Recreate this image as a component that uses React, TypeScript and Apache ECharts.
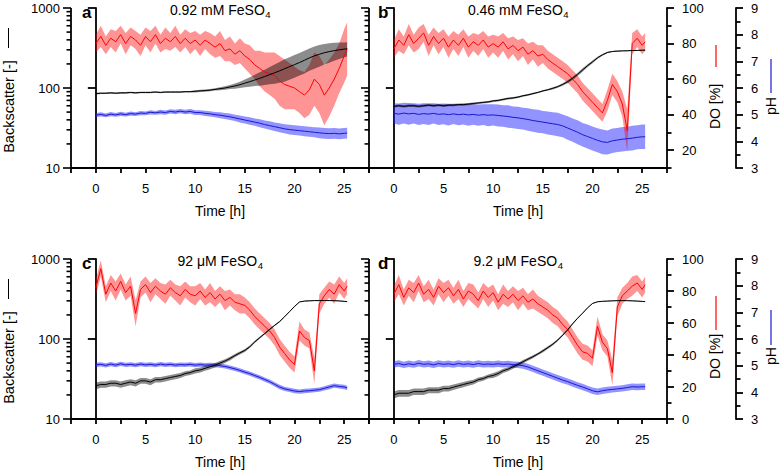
import React, { useEffect, useRef } from 'react';
import * as echarts from 'echarts';

const TIME = [0,0.5,1,1.5,2,2.5,3,3.5,4,4.5,5,5.5,6,6.5,7,7.5,8,8.5,9,9.5,10,10.5,11,11.5,12,12.5,13,13.5,14,14.5,15,15.5,16,16.5,17,17.5,18,18.5,19,19.5,20,20.5,21,21.5,22,22.5,23,23.5,24,24.5,25,25.3];

const A_BS = [85,86,86,87,86,87,87,88,87,88,88,88,89,88,89,89,89,89,90,90,91,92,93,94,96,98,100,103,106,110,115,120,126,132,139,147,155,164,174,185,196,208,222,238,252,264,276,285,293,300,306,310];
const A_BS_SD = [2,2,2,2,2,2,2,2,2,2,2,2,2,2,2,2,2,2,2,2,3,3,3,3,3,4,5,6,8,10,13,16,20,25,30,36,42,48,54,58,62,65,70,74,78,80,80,78,74,70,64,62];
const A_DO = [80,84,79,83,81,85,80,84,82,79,84,81,85,80,83,81,84,80,83,80,82,79,82,80,78,80,76,77,74,76,73,71,68,66,64,63,62,59,57,56,55,53,51,54,60,57,51,55,60,66,73,77];
const A_DO_SD = [5,6,5,5,6,5,6,5,5,6,5,6,5,5,6,5,6,5,5,6,5,6,5,6,6,7,6,7,6,7,7,8,8,10,11,12,13,14,14,13,12,12,13,14,15,16,17,16,15,14,15,15];
const A_PH = [4.98,5.01,4.97,5.02,4.99,5.03,5.0,5.04,5.02,5.06,5.05,5.09,5.07,5.1,5.08,5.12,5.1,5.13,5.1,5.12,5.08,5.08,5.05,5.03,5.0,4.98,4.95,4.92,4.88,4.84,4.8,4.76,4.72,4.68,4.63,4.59,4.55,4.51,4.47,4.44,4.42,4.4,4.38,4.36,4.34,4.32,4.3,4.29,4.3,4.28,4.3,4.31];
const A_PH_SD = [0.07,0.08,0.07,0.08,0.07,0.08,0.07,0.08,0.07,0.08,0.07,0.08,0.07,0.08,0.08,0.08,0.08,0.08,0.08,0.09,0.09,0.09,0.1,0.1,0.1,0.11,0.11,0.12,0.12,0.13,0.13,0.14,0.14,0.15,0.15,0.16,0.16,0.17,0.17,0.18,0.18,0.18,0.19,0.19,0.19,0.2,0.2,0.2,0.2,0.2,0.2,0.2];

const B_BS = [59,60,59,60,60,59,60,61,60,61,60,61,61,62,62,63,64,65,66,67,69,70,72,74,75,77,80,82,85,88,92,95,99,104,111,120,132,148,168,190,212,238,260,278,286,289,291,292,294,295,297,297];
const B_BS_SD = [2,2,2,2,2,2,2,2,2,2,2,2,2,2,2,2,2,2,2,2,2,2,2,2,2,2,2,2,2,2,2,2,3,3,4,5,6,7,8,8,8,8,7,6,5,5,4,4,4,4,4,4];
const B_DO = [77,82,79,85,80,83,86,79,84,80,83,78,82,79,83,78,81,79,82,78,80,78,81,77,79,76,78,74,76,73,74,71,69,67,65,63,60,57,53,50,47,44,41,48,57,53,46,31,80,83,79,81];
const B_DO_SD = [5,6,5,6,5,6,5,6,5,6,5,6,5,6,5,6,5,6,5,6,5,6,5,6,5,6,5,6,5,6,5,5,5,5,5,5,5,5,5,5,5,5,5,6,6,6,7,12,6,5,5,5];
const B_PH = [5.05,5.02,5.06,5.03,5.05,5.01,5.04,5.02,5.05,5.01,5.03,5.0,5.03,5.0,5.02,4.99,5.01,4.98,5.0,4.98,4.99,4.97,4.95,4.93,4.9,4.88,4.85,4.82,4.78,4.75,4.72,4.69,4.66,4.63,4.58,4.5,4.42,4.34,4.25,4.18,4.11,4.04,3.98,3.96,4.02,4.05,4.08,4.1,4.12,4.15,4.17,4.17];
const B_PH_SD = [0.38,0.4,0.39,0.41,0.38,0.4,0.39,0.41,0.38,0.4,0.39,0.41,0.38,0.4,0.39,0.41,0.39,0.4,0.39,0.41,0.4,0.41,0.4,0.42,0.41,0.42,0.41,0.42,0.42,0.43,0.42,0.43,0.43,0.44,0.43,0.44,0.44,0.45,0.44,0.45,0.45,0.45,0.46,0.45,0.46,0.45,0.46,0.45,0.46,0.45,0.46,0.46];

const C_BS = [26,27,27,28,28,27,28,29,28,30,30,29,31,31,32,33,34,35,37,38,40,41,43,45,47,50,53,57,62,67,72,80,92,104,117,132,148,165,190,220,255,290,298,300,302,302,303,302,301,299,296,293];
const C_BS_SD = [2.5,2.5,2.5,2.5,2.5,2.5,2.5,2.5,2.5,2.5,2.5,2.5,2.5,2.5,2.5,2.5,2.5,2.5,2.5,2.5,3,3,3,3,3,3,3,3,3,3,3,3,3,3,3,3,3,3,3,3,3,3,3,3,3,3,3,3,3,3,3,3];
const C_DO = [82,94,78,85,80,86,79,83,66,81,84,79,83,80,78,82,79,77,81,78,77,80,76,79,75,78,74,76,73,72,71,68,64,61,58,55,51,45,41,37,34,55,51,49,30,72,77,81,78,84,80,83];
const C_DO_SD = [5,5,5,5,6,5,5,6,8,5,5,6,5,5,6,5,5,6,5,5,6,5,5,6,5,5,6,5,5,6,5,5,5,5,5,5,5,5,5,5,5,6,5,5,8,6,5,5,6,5,5,5];
const C_PH = [5.03,5.05,5.01,5.06,5.02,5.07,5.03,5.05,5.02,5.06,5.03,5.05,5.02,5.06,5.03,5.05,5.02,5.04,5.03,5.05,5.02,5.04,5.02,5.03,5.02,5.0,4.97,4.93,4.88,4.82,4.76,4.7,4.63,4.56,4.48,4.4,4.3,4.2,4.13,4.09,4.05,4.03,4.05,4.06,4.08,4.1,4.15,4.2,4.25,4.22,4.2,4.17];
const C_PH_SD = [0.08,0.08,0.08,0.08,0.08,0.08,0.08,0.08,0.08,0.08,0.08,0.08,0.08,0.08,0.08,0.08,0.08,0.08,0.08,0.08,0.08,0.08,0.08,0.08,0.08,0.08,0.08,0.08,0.08,0.08,0.08,0.08,0.08,0.08,0.08,0.08,0.08,0.08,0.08,0.08,0.08,0.08,0.08,0.08,0.08,0.08,0.08,0.08,0.08,0.08,0.08,0.08];

const D_BS = [20,21,21,21,22,22,22,23,23,23,24,24,25,26,27,28,29,31,32,34,35,37,40,42,45,48,52,56,60,65,71,78,86,97,112,130,155,182,210,245,278,292,296,298,300,301,302,301,300,298,295,293];
const D_BS_SD = [2,2,2,2,2,2,2,2,2,2,2,2,2,2,2,2,2,2,2,2,2.5,2.5,2.5,2.5,2.5,2.5,2.5,2.5,2.5,2.5,3,3,3,3,3,3,3,3,3,3,3,3,3,3,3,3,3,3,3,3,3,3];
const D_DO = [78,84,76,82,79,85,78,81,76,83,79,82,77,81,75,80,78,74,80,76,79,73,78,75,78,74,77,73,75,72,70,68,65,63,59,56,51,46,42,41,38,58,48,44,29,70,77,80,83,85,81,84];
const D_DO_SD = [5,6,5,5,6,5,5,6,5,5,6,5,5,6,5,5,6,5,5,6,5,5,6,5,5,6,5,5,6,5,5,5,5,5,5,5,5,5,5,5,5,6,5,5,8,6,5,5,6,5,5,5];
const D_PH = [5.05,5.08,5.03,5.07,5.04,5.09,5.05,5.07,5.03,5.08,5.05,5.07,5.04,5.08,5.05,5.07,5.04,5.08,5.05,5.06,5.05,5.07,5.05,5.06,5.04,5.03,5.0,4.95,4.88,4.81,4.74,4.67,4.6,4.53,4.46,4.4,4.33,4.26,4.2,4.13,4.06,4.02,4.06,4.09,4.11,4.13,4.15,4.18,4.21,4.2,4.21,4.21];
const D_PH_SD = [0.12,0.12,0.12,0.12,0.12,0.12,0.12,0.12,0.12,0.12,0.12,0.12,0.12,0.12,0.12,0.12,0.12,0.12,0.12,0.12,0.12,0.12,0.12,0.12,0.12,0.12,0.12,0.12,0.12,0.12,0.12,0.12,0.12,0.12,0.12,0.12,0.12,0.12,0.12,0.12,0.12,0.12,0.12,0.12,0.12,0.12,0.12,0.12,0.12,0.12,0.12,0.12];

const LOG_MAJOR = [10, 100, 1000];
const LOG_MINOR = [20,30,40,50,60,70,80,90,200,300,400,500,600,700,800,900];
const DO_MAJOR = [0,20,40,60,80,100];
const DO_MINOR = [10,30,50,70,90];
const TITLES = ['0.92 mM FeSO', '0.46 mM FeSO', '92 μM FeSO', '9.2 μM FeSO'];
const TITLE_SUB = '4';
const LETTERS = ['a', 'b', 'c', 'd'];

const FONT = '"Liberation Sans", Arial, sans-serif';
const RED = '#ff0000';
const RED_BAND = 'rgba(255,0,0,0.42)';
const GRAY_BAND = 'rgba(0,0,0,0.45)';
const BLUE = '#1818d0';
const BLUE_BAND = 'rgba(40,40,255,0.5)';
const AX = { color: '#000', width: 1.8 };
const SERIES_PER_PANEL = 6;

const PANELS = [
  { bs: A_BS, bsSd: A_BS_SD, dO: A_DO, doSd: A_DO_SD, ph: A_PH, phSd: A_PH_SD, left: 71, top: 8, doMin: 10, right: false, labels: true },
  { bs: B_BS, bsSd: B_BS_SD, dO: B_DO, doSd: B_DO_SD, ph: B_PH, phSd: B_PH_SD, left: 369, top: 8, doMin: 10, right: true, labels: false },
  { bs: C_BS, bsSd: C_BS_SD, dO: C_DO, doSd: C_DO_SD, ph: C_PH, phSd: C_PH_SD, left: 71, top: 259, doMin: 0, right: false, labels: true },
  { bs: D_BS, bsSd: D_BS_SD, dO: D_DO, doSd: D_DO_SD, ph: D_PH, phSd: D_PH_SD, left: 369, top: 259, doMin: 0, right: true, labels: false },
];

const DO_KEY = [[37, 59, 98.5], [37, 71, 97.5]];
const PH_KEY = [[51, 85, 98], [51, 86, 97]];

let measureCtx: CanvasRenderingContext2D | null = null;
function textWidth(text: string, font: string) {
  if (!measureCtx) measureCtx = document.createElement('canvas').getContext('2d');
  if (!measureCtx) return text.length * 7;
  measureCtx.font = font;
  return measureCtx.measureText(text).width;
}

function band(i: number, yIdx: number, mean: number[], sd: number[], color: string, z: number) {
  return {
    type: 'custom', xAxisIndex: i, yAxisIndex: yIdx, silent: true, z, clip: false,
    data: [[TIME[0], mean[0]]],
    encode: { x: 0, y: 1 },
    renderItem: (_p: any, api: any) => {
      const pts: number[][] = [];
      for (let k = 0; k < TIME.length; k++) pts.push(api.coord([TIME[k], mean[k] + sd[k]]));
      for (let k = TIME.length - 1; k >= 0; k--) pts.push(api.coord([TIME[k], mean[k] - sd[k]]));
      return { type: 'polygon', shape: { points: pts }, style: { fill: color } };
    },
  };
}

function line(i: number, yIdx: number, mean: number[], color: string, z: number) {
  return {
    type: 'line', xAxisIndex: i, yAxisIndex: yIdx, silent: true, z,
    showSymbol: false, symbol: 'none',
    data: TIME.map((t, k) => [t, mean[k]]),
    lineStyle: { color, width: 1 },
  };
}

function buildOption() {
  const grid: any[] = [];
  const xAxis: any[] = [];
  const yAxis: any[] = [];
  const series: any[] = [];
  const graphic: any[] = [];

  PANELS.forEach((p, i) => {
    grid.push({ left: p.left, top: p.top, width: 298, height: 160 });
    xAxis.push({
      gridIndex: i, type: 'value', min: -2.5, max: 27.5, interval: 2.5,
      axisLine: { lineStyle: AX }, axisTick: { length: 5, lineStyle: AX },
      splitLine: { show: false },
      axisLabel: {
        color: '#000', fontSize: 13, fontFamily: FONT, margin: 14,
        formatter: (v: number) => (v >= 0 && v <= 25 && v % 5 === 0 ? String(v) : ''),
      },
      name: 'Time [h]', nameLocation: 'middle', nameGap: 36,
      nameTextStyle: { color: '#000', fontSize: 14, fontFamily: FONT },
    });
    yAxis.push({
      gridIndex: i, type: 'log', logBase: 10, min: 10, max: 1000, position: 'left',
      axisLine: { show: true, lineStyle: AX }, axisTick: { show: true, length: 8, lineStyle: AX },
      splitLine: { show: false },
      axisLabel: { show: p.labels, color: '#000', fontSize: 13, fontFamily: FONT, margin: 11, formatter: (v: number) => String(v) },
    });
    yAxis.push({
      gridIndex: i, type: 'value', min: p.doMin, max: 100, interval: 10, position: 'right', show: p.right,
      axisLine: { show: true, lineStyle: AX },
      axisTick: { show: true, length: 7, lineStyle: AX, customValues: DO_MAJOR.filter((v) => v >= p.doMin) },
      splitLine: { show: false },
      axisLabel: { color: '#000', fontSize: 13, fontFamily: FONT, margin: 15, formatter: (v: number) => (v % 20 === 0 ? String(v) : '') },
    });
    yAxis.push({
      gridIndex: i, type: 'value', min: p.doMin, max: 100, interval: 10, position: 'right', show: p.right,
      axisLine: { show: false },
      axisTick: { show: true, length: 4.5, lineStyle: AX, customValues: DO_MINOR.filter((v) => v >= p.doMin) },
      splitLine: { show: false }, axisLabel: { show: false },
    });
    yAxis.push({
      gridIndex: i, type: 'value', min: 3, max: 9, interval: 1, position: 'right', offset: 69, show: p.right,
      axisLine: { show: true, lineStyle: AX }, axisTick: { show: true, length: 7, lineStyle: AX },
      minorTick: { show: true, splitNumber: 2, length: 4.5, lineStyle: AX },
      splitLine: { show: false }, minorSplitLine: { show: false },
      axisLabel: { color: '#000', fontSize: 13, fontFamily: FONT, margin: 15 },
    });

    const yl = i * 4, yd = i * 4 + 1, yp = i * 4 + 3;
    series.push(band(i, yp, p.ph, p.phSd, BLUE_BAND, 1));
    series.push(band(i, yd, p.dO, p.doSd, RED_BAND, 1));
    series.push(band(i, yl, p.bs, p.bsSd, GRAY_BAND, 1));
    series.push(line(i, yp, p.ph, BLUE, 3));
    series.push(line(i, yd, p.dO, RED, 3));
    series.push(line(i, yl, p.bs, '#000', 3));

    graphic.push({
      type: 'text', x: p.left + (i % 2 === 0 ? 11 : 9), y: p.top + 4.4,
      style: { text: LETTERS[i], font: `bold 17px ${FONT}`, fill: '#000', align: 'left', verticalAlign: 'middle' },
    });
    const mainFont = `14px ${FONT}`;
    const subFont = `9.5px ${FONT}`;
    const w1 = textWidth(TITLES[i], mainFont);
    const w2 = textWidth(TITLE_SUB, subFont);
    const x0 = p.left + 149 - (w1 + w2) / 2;
    graphic.push({
      type: 'text', x: x0, y: p.top + 1.6,
      style: { text: TITLES[i], font: mainFont, fill: '#000', align: 'left', verticalAlign: 'middle' },
    });
    graphic.push({
      type: 'text', x: x0 + w1 + 0.5, y: p.top + 6.6,
      style: { text: TITLE_SUB, font: subFont, fill: '#000', align: 'left', verticalAlign: 'middle' },
    });

    if (p.labels) {
      graphic.push({
        type: 'text', x: 9, y: p.top + 98.5, rotation: Math.PI / 2,
        style: { text: 'Backscatter [-]', font: `14.5px ${FONT}`, fill: '#000', align: 'center', verticalAlign: 'middle' },
      });
      graphic.push({ type: 'line', shape: { x1: 8.5, y1: p.top + 20, x2: 8.5, y2: p.top + 40 }, style: { stroke: '#000', lineWidth: 1 } });
    }
    if (p.right) {
      const row = p.top < 100 ? 0 : 1;
      const dk = DO_KEY[row];
      const pk = PH_KEY[row];
      graphic.push({
        type: 'text', x: 715, y: p.top + dk[2], rotation: Math.PI / 2,
        style: { text: 'DO [%]', font: `14px ${FONT}`, fill: '#000', align: 'center', verticalAlign: 'middle' },
      });
      graphic.push({ type: 'line', shape: { x1: 716, y1: p.top + dk[0], x2: 716, y2: p.top + dk[1] }, style: { stroke: RED, lineWidth: 1.2 } });
      graphic.push({
        type: 'text', x: 770.5, y: p.top + pk[2], rotation: Math.PI / 2,
        style: { text: 'pH', font: `14px ${FONT}`, fill: '#000', align: 'center', verticalAlign: 'middle' },
      });
      graphic.push({ type: 'line', shape: { x1: 771, y1: p.top + pk[0], x2: 771, y2: p.top + pk[1] }, style: { stroke: BLUE, lineWidth: 1.2 } });
    }
  });

  return {
    animation: false,
    backgroundColor: '#fff',
    textStyle: { fontFamily: FONT, color: '#000' },
    grid, xAxis, yAxis, series, graphic,
  };
}

export default function App() {
  const ref = useRef<HTMLDivElement>(null);
  useEffect(() => {
    if (!ref.current) return;
    const chart = echarts.init(ref.current, null, { renderer: 'svg' });
    const opt = buildOption();
    chart.setOption(opt as any);
    // log axis line, major and minor ticks, placed through each panel's own log scale
    const marks: any[] = [];
    PANELS.forEach((_p, i) => {
      const finder = { seriesIndex: i * SERIES_PER_PANEL + 5 } as any;
      const lo = chart.convertToPixel(finder, [-2.5, 10]) as any;
      const hi = chart.convertToPixel(finder, [-2.5, 1000]) as any;
      if (lo && hi && isFinite(lo[0]) && isFinite(hi[1])) {
        marks.push({
          type: 'line', silent: true, z: 100,
          shape: { x1: lo[0], y1: lo[1] + 0.9, x2: hi[0], y2: hi[1] },
          style: { stroke: '#000', lineWidth: 1.8 },
        });
      }
      const addTick = (v: number, len: number) => {
        const c = chart.convertToPixel(finder, [-2.5, v]) as any;
        if (c && isFinite(c[0]) && isFinite(c[1])) {
          marks.push({
            type: 'line', silent: true, z: 100,
            shape: { x1: c[0] - len, y1: c[1], x2: c[0], y2: c[1] },
            style: { stroke: '#000', lineWidth: 1.6 },
          });
        }
      };
      LOG_MAJOR.forEach((v) => addTick(v, 8));
      LOG_MINOR.forEach((v) => addTick(v, 4.5));
    });
    chart.setOption({ graphic: [...opt.graphic, ...marks] } as any);
    return () => chart.dispose();
  }, []);
  return <div ref={ref} style={{ position: 'absolute', left: 0, top: 0, width: 782, height: 473, background: '#fff' }} />;
}
